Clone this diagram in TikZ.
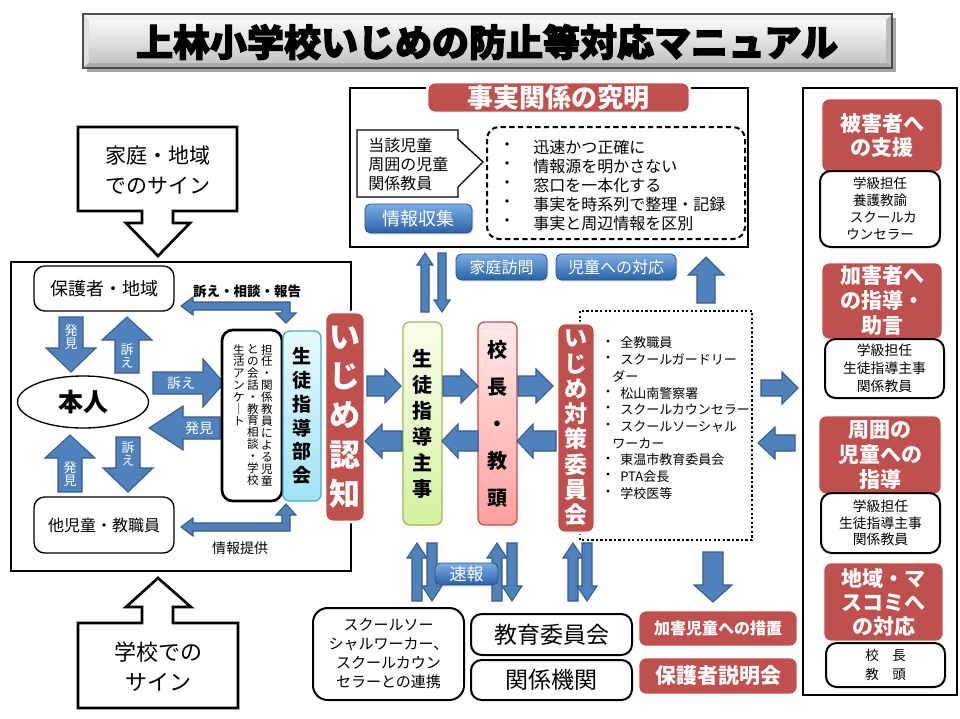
\documentclass[tikz,border=0pt]{standalone}
\usepackage{fontspec}
\setmainfont{Noto Sans CJK JP}
\usetikzlibrary{shadows,shapes.geometric}
\definecolor{redc}{HTML}{C0504D}
\definecolor{ablue}{HTML}{4F81BD}
\definecolor{aedge}{HTML}{385D8A}
\definecolor{btop}{HTML}{7AAEE3}
\definecolor{bbot}{HTML}{2B62A6}
\definecolor{bedge}{HTML}{24528C}
\definecolor{cyt}{HTML}{E8F9FE}
\definecolor{cyb}{HTML}{9FE3F5}
\definecolor{cye}{HTML}{4BACC6}
\definecolor{grt}{HTML}{F8FFEC}
\definecolor{grb}{HTML}{D3F2A0}
\definecolor{gre}{HTML}{9BBB59}
\definecolor{pkt}{HTML}{FFEAEA}
\definecolor{pkb}{HTML}{FF9F9F}
\newcommand\px[2]{\fontsize{\fpeval{#1*0.75}pt}{\fpeval{#2*0.75}pt}\selectfont}
\makeatletter
\let\vstE\relax
\def\vstEm{\vstE}
\newcommand\vst[2][1.2]{\vbox{\baselineskip=#1em\lineskiplimit=-100pt\lineskip=0pt\vst@a#2\vstE}}
\def\vst@a#1{\def\vst@t{#1}\ifx\vst@t\vstEm\else\hbox to 1em{\hss#1\hss}\expandafter\vst@a\fi}
\makeatother
\newcommand\HA[6]{\draw[barrow] (#1,{#4-#5}) -- (#2,{#4-#5}) -- (#2,{#4-#6}) -- (#3,#4) -- (#2,{#4+#6}) -- (#2,{#4+#5}) -- (#1,{#4+#5}) -- cycle;}
\newcommand\VA[6]{\draw[barrow] ({#4-#5},#1) -- ({#4-#5},#2) -- ({#4-#6},#2) -- (#4,#3) -- ({#4+#6},#2) -- ({#4+#5},#2) -- ({#4+#5},#1) -- cycle;}
\newcommand\bx[7][]{\node[#1, minimum width={(#5-#3)*0.75pt}, minimum height={(#6-#4)*0.75pt}, inner sep=0pt] (#2) at ({(#3+#5)/2},{(#4+#6)/2}) {#7};}
\tikzset{
  barrow/.style={fill=ablue, draw=aedge, line width=0.8pt, line join=miter},
  redlab/.style={fill=redc, draw=white, line width=2pt, rounded corners=6pt, text=white, align=center,
     drop shadow={opacity=0.3,shadow xshift=0.8pt,shadow yshift=-0.8pt}},
  bbtn/.style={rounded corners=4pt, top color=btop, bottom color=bbot, draw=bedge, line width=0.6pt, text=white,
     drop shadow={opacity=0.3,shadow xshift=1pt,shadow yshift=-1pt}},
  wbox/.style={draw, fill=white, line width=1pt, rounded corners=8pt, align=center},
  tbox/.style={draw, fill=white, line width=1.5pt, rounded corners=8pt, align=center},
  lbl/.style={inner sep=0pt, align=center},
}
\begin{document}
\begin{tikzpicture}[x=0.75pt,y=-0.75pt]
\useasboundingbox (0,0) rectangle (960,718);
\fill[white] (0,0) rectangle (960,718);

% ---------- title banner ----------
\fill[black, opacity=0.35] (87,18) rectangle (896,72);
\fill[gray!35] (83,14) rectangle (892,68);
\fill[gray!10] (83,14) -- (892,14) -- (886,20) -- (89,20) -- cycle;
\fill[gray!25] (83,14) -- (89,20) -- (89,62) -- (83,68) -- cycle;
\fill[gray!55] (892,14) -- (892,68) -- (886,62) -- (886,20) -- cycle;
\fill[gray!65] (83,68) -- (892,68) -- (886,62) -- (89,62) -- cycle;
\shade[top color=gray!5, bottom color=gray!45] (89,20) rectangle (886,62);
\draw[black!70, line width=0.8pt] (83,14) rectangle (892,68);
\node[lbl, font=\bfseries\px{37}{40}] (title) at (487,42) {\special{pdf:literal direct 2 Tr 0.9 w}上林小学校いじめの防止等対応マニュアル\special{pdf:literal direct 0 Tr}};

% ---------- fact-finding box ----------
\bx[draw, line width=2pt]{factbox}{350}{88}{748}{247}{}
\bx[redlab, font=\bfseries\px{26}{28}]{factlab}{427}{82}{690}{113}{事実関係の究明}
\draw[line width=1pt, fill=white] (357,130) -- (458,130) -- (458,139) -- (483,162) -- (458,187) -- (458,197) -- (357,197) -- cycle;
\node[lbl, anchor=west, align=left, font=\px{16}{19}] (who) at (368,164) {当該児童\\周囲の児童\\関係教員};
\bx[bbtn, font=\px{18}{18}]{infobtn}{365}{204}{472}{233}{情報収集}
\draw[line width=1.5pt, dash pattern=on 4pt off 2.5pt, rounded corners=9pt] (487,127) rectangle (745,239);
\foreach \t [count=\i] in {迅速かつ正確に,情報源を明かさない,窓口を一本化する,事実を時系列で整理・記録,事実と周辺情報を区別}{
  \node[lbl, font=\px{16}{16}] (fb\i) at (507,{128+19*\i}) {・};
  \node[lbl, anchor=west, font=\px{16}{16}] (ft\i) at (533,{128+19*\i}) {\t};
}

% ---------- signs ----------
\draw[line width=2pt, fill=white, line join=miter] (78,127) -- (237,127) -- (237,211) -- (173,211) -- (173,223) -- (190,223) -- (158,256) -- (126,223) -- (142,223) -- (142,211) -- (78,211) -- cycle;
\node[lbl, font=\px{21}{30}] (homesign) at (158,170) {家庭・地域\\でのサイン};
\draw[line width=2pt, fill=white, line join=miter] (158,578) -- (191,607) -- (173,607) -- (173,623) -- (238,623) -- (238,708) -- (78,708) -- (78,623) -- (142,623) -- (142,607) -- (126,607) -- cycle;
\node[lbl, font=\px{22}{30}] (schoolsign) at (158,667) {学校での\\サイン};

% ---------- left box ----------
\draw[line width=2pt] (11,262) rectangle (351,571);
\bx[wbox, font=\px{18}{18}]{parents}{34}{266}{174}{311}{保護者・地域}
\bx[wbox, font=\px{16}{16}]{others}{34}{497}{174}{553}{他児童・教職員}
\node[draw, ellipse, line width=1pt, minimum width={131*0.75pt}, minimum height={52*0.75pt}, font=\bfseries\px{25}{25}] (honnin) at (83,402) {本人};
\VA{317}{348}{372}{71}{12}{25}
\node[lbl, text=white, font=\px{13}{13}] (a1) at (71,337) {\vst[1.05]{発見}};
\VA{373}{340}{317}{127}{12}{25}
\node[lbl, text=white, font=\px{13}{13}] (a2) at (127,356) {\vst[1.05]{訴え}};
\VA{492}{458}{435}{70}{12}{25}
\node[lbl, text=white, font=\px{13}{13}] (a3) at (70,474) {\vst[1.05]{発見}};
\VA{437}{468}{492}{128}{12}{25}
\node[lbl, text=white, font=\px{13}{13}] (a4) at (128,454) {\vst[1.05]{訴え}};
\HA{153}{203}{224}{383}{11}{24}
\node[lbl, text=white, font=\px{14}{14}] (a5) at (181,383) {訴え};
\HA{220}{183}{149}{428}{11}{22}
\node[lbl, text=white, font=\px{14}{14}] (a6) at (199,428) {発見};
% bent double arrows
\draw[barrow] (181,306) -- (193,297) -- (193,302) -- (290,302) -- (290,313) -- (296,313) -- (286,323) -- (276,313) -- (282,313) -- (282,310) -- (193,310) -- (193,315) -- cycle;
\node[lbl, font=\bfseries\px{13.5}{14}] (uttae) at (247,291) {訴え・相談・報告};
\draw[barrow] (181,527) -- (193,518) -- (193,523) -- (282,523) -- (282,515) -- (276,515) -- (286,504) -- (296,515) -- (290,515) -- (290,531) -- (193,531) -- (193,536) -- cycle;
\node[lbl, font=\px{14}{14}] (joho) at (240,548) {情報提供};
% vertical text box
\bx[draw, fill=white, line width=2pt, rounded corners=8pt]{tanbox}{222}{330}{282}{501}{}
\node[lbl, anchor=north, font=\px{11.6}{12}] (col1) at (267,344) {\vst[1.03]{担任・関係教員による児童}};
\node[lbl, anchor=north, font=\px{11.6}{12}] (col2) at (253,344) {\vst[1.03]{との会話・教育相談・学校}};
\node[lbl, anchor=north, font=\px{11.6}{12}] (col3) at (239,344) {\vst[1.03]{生活アンケ｜ト}};
\bx[top color=cyt, bottom color=cyb, draw=cye, line width=1pt, rounded corners=5pt, font=\bfseries\px{19}{19}]{bukai}{283}{331}{321}{501}{\vst[1.25]{生徒指導部会}}

% ---------- dotted committee box ----------
\draw[line width=1.7pt, dash pattern=on 1.7pt off 1.7pt] (580,311) rectangle (752,540);
\foreach \b/\t [count=\i] in {1/全教職員,1/スクールガードリー,0/ダー,1/松山南警察署,1/スクールカウンセラー,1/スクールソーシャル,0/ワーカー,1/東温市教育委員会,1/PTA会長,1/学校医等}{
  \ifnum\b=1
    \node[lbl, font=\px{13}{13}] (db\i) at (608,{343+16.7*(\i-1)}) {・};
    \node[lbl, anchor=west, font=\px{13}{13}] (dl\i) at (620,{343+16.7*(\i-1)}) {\t};
  \else
    \node[lbl, anchor=west, font=\px{13}{13}] (dl\i) at (612,{343+16.7*(\i-1)}) {\t};
  \fi
}

% ---------- central column boxes ----------
\bx[redlab, font=\bfseries\px{31}{31}]{ninchi}{325}{312}{365}{522}{\vst[1.27]{いじめ認知}}
\bx[top color=grt, bottom color=grb, draw=gre, line width=1pt, rounded corners=5pt, font=\bfseries\px{20}{20}]{shuji}{403}{322}{442}{525}{\vst[1.3]{生徒指導主事}}
\bx[top color=pkt, bottom color=pkb, draw=redc, line width=1pt, rounded corners=5pt, font=\bfseries\px{20}{20}]{kocho}{478}{322}{517}{525}{\vst[1.85]{校長・教頭}}
\bx[redlab, font=\bfseries\px{23}{23}]{iinkai}{557}{323}{595}{533}{\vst[1.1]{いじめ対策委員会}}

% ---------- horizontal arrows ----------
\HA{367}{385}{401}{386}{10}{17}
\HA{402}{382}{365}{441}{10}{17}
\HA{443}{461}{478}{386}{10}{17}
\HA{478}{458}{442}{441}{10}{17}
\HA{518}{536}{553}{386}{10}{17}
\HA{556}{533}{517}{441}{10}{17}
\HA{761}{782}{798}{388}{8}{16}
\HA{795}{775}{758}{443}{8}{16}
\VA{303}{275}{257}{706}{9}{18}
\VA{552}{585}{602}{713}{10}{19}
% thin double arrows
\VA{312}{265}{253}{425}{4}{8}
\VA{253}{300}{312}{442}{4}{8}
\foreach \u/\d in {417/432,497/512,573/587}{
  \VA{601}{558}{543}{\u}{5}{10}
  \VA{543}{586}{601}{\d}{5}{10}
}

% ---------- buttons ----------
\bx[bbtn, font=\px{16}{16}]{visit}{456}{254}{547}{280}{家庭訪問}
\bx[bbtn, font=\px{16}{16}]{child}{556}{254}{676}{280}{児童への対応}
\bx[bbtn, font=\px{17}{17}]{sokuho}{435}{563}{498}{585}{速報}

% ---------- bottom boxes ----------
\bx[tbox, rounded corners=11pt, font=\px{15}{19}]{ssw}{313}{608}{464}{700}{スクールソー\\シャルワーカー、\\スクールカウン\\セラーとの連携}
\bx[tbox, font=\px{23}{23}]{boe}{471}{614}{632}{655}{教育委員会}
\bx[tbox, font=\px{23}{23}]{kikan}{471}{660}{632}{700}{関係機関}
\bx[redlab, font=\bfseries\px{16}{16}]{sochi}{638}{610}{798}{647}{加害児童への措置}
\bx[redlab, font=\bfseries\px{21}{21}]{setsumei}{638}{657}{798}{695}{保護者説明会}

% ---------- right panel ----------
\draw[line width=2pt] (803,88) rectangle (957,695);
\bx[redlab, font=\bfseries\px{21}{24}]{r1}{821}{98}{943}{173}{被害者へ\\の支援}
\bx[tbox, font=\px{13.5}{17}]{s1}{820}{171}{940}{247}{学級担任\\養護教諭\\\hspace{0.5em}スクールカ\\ウンセラー}
\bx[redlab, font=\bfseries\px{21}{25}]{r2}{821}{262}{943}{340}{加害者へ\\の指導・\\助言}
\bx[tbox, font=\px{13.8}{18}]{s2}{825}{339}{944}{398}{学級担任\\生徒指導主事\\関係教員}
\bx[redlab, font=\bfseries\px{21}{25}]{r3}{818}{415}{942}{495}{周囲の\\児童への\\指導}
\bx[tbox, font=\px{13.8}{16.5}]{s3}{821}{493}{940}{553}{学級担任\\生徒指導主事\\関係教員}
\bx[redlab, font=\bfseries\px{21}{24}]{r4}{823}{562}{944}{642}{地域・マ\\スコミへ\\の対応}
\bx[tbox, font=\px{13.5}{19}]{s4}{826}{643}{945}{687}{校\hspace{1em}長\\教\hspace{1em}頭}
\end{tikzpicture}
\end{document}
